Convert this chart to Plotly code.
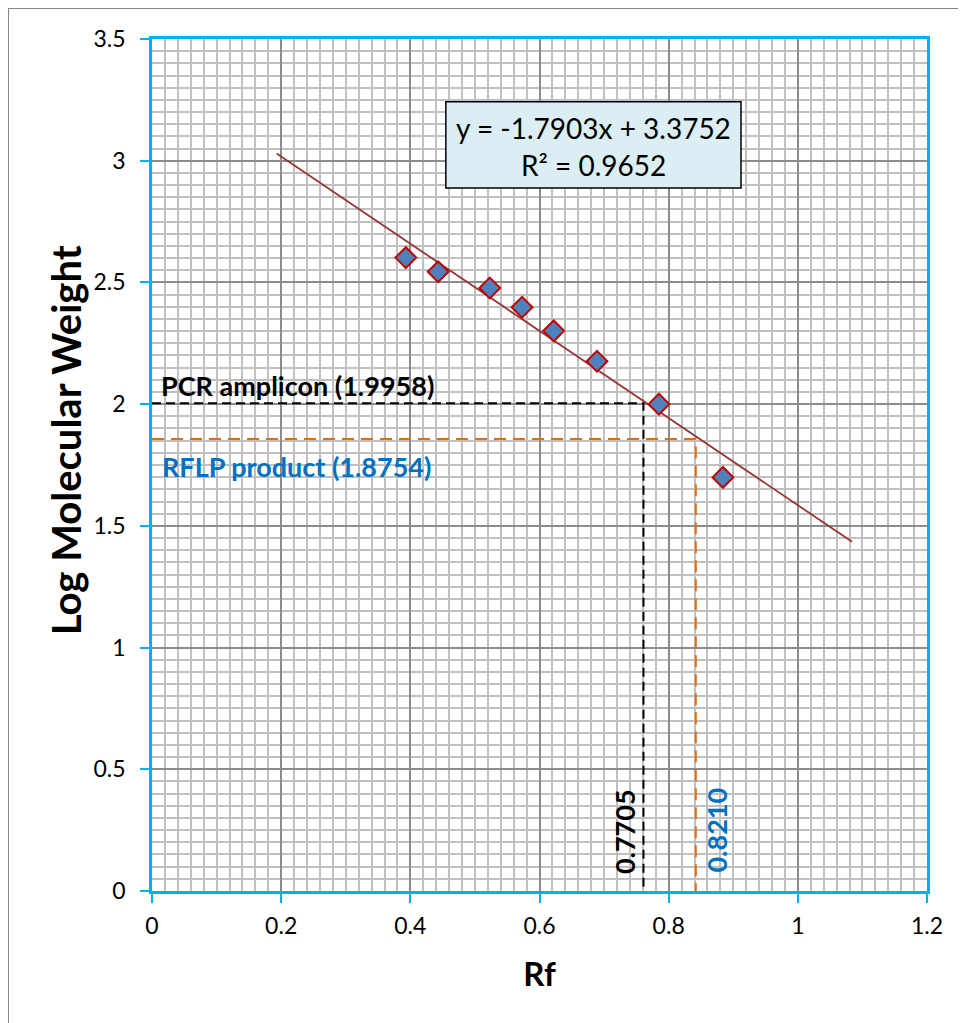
import numpy as np
import plotly.graph_objects as go

# Data
rf = [0.393, 0.443, 0.523, 0.573, 0.622, 0.689, 0.785, 0.884]
log_mw = [2.602, 2.544, 2.477, 2.398, 2.301, 2.176, 2.000, 1.699]
slope = -1.7903
intercept = 3.3752
r2 = 0.9652
forecast = 0.2

pcr_rf, pcr_logmw = 0.761, 2.004
rflp_rf, rflp_logmw = 0.842, 1.857
pcr_label_rf, pcr_label_logmw = "0.7705", "1.9958"
rflp_label_rf, rflp_label_logmw = "0.8210", "1.8754"

x_ticks = [0, 0.2, 0.4, 0.6, 0.8, 1, 1.2]
y_ticks = [0, 0.5, 1, 1.5, 2, 2.5, 3, 3.5]

FONT = "Lato"
CYAN = "#00B0F0"
BLUE = "#0070C0"
ORANGE = "#E46C0A"

tx = np.array([min(rf) - forecast, max(rf) + forecast])
ty = slope * tx + intercept

fig = go.Figure()
fig.add_trace(go.Scatter(x=tx, y=ty, mode="lines",
                         line=dict(color="#953735", width=1.8), hoverinfo="skip"))
fig.add_trace(go.Scatter(x=[0, pcr_rf, pcr_rf], y=[pcr_logmw, pcr_logmw, 0], mode="lines",
                         line=dict(color="black", width=2, dash="9px,5px")))
fig.add_trace(go.Scatter(x=[0, rflp_rf, rflp_rf], y=[rflp_logmw, rflp_logmw, 0], mode="lines",
                         line=dict(color=ORANGE, width=2, dash="12px,7px")))
fig.add_trace(go.Scatter(x=rf, y=log_mw, mode="markers",
                         marker=dict(symbol="diamond", size=16, color="#4F81BD",
                                     line=dict(color="#C00000", width=2))))

# equation box
fig.add_shape(type="rect", xref="x", yref="y", x0=0.455, x1=0.912, y0=2.888, y1=3.242,
              fillcolor="#DBEEF4", line=dict(color="black", width=1.5), layer="above")
fig.add_annotation(x=0.684, y=3.135, text=f"y = {slope}x + {intercept}", showarrow=False,
                   font=dict(family=FONT, size=28, color="black"))
fig.add_annotation(x=0.684, y=2.983, text=f"R² = {r2}", showarrow=False,
                   font=dict(family=FONT, size=28, color="black"))

fig.add_annotation(x=0.225, y=2.075, text=f"<b>PCR amplicon ({pcr_label_logmw})</b>", showarrow=False,
                   font=dict(family=FONT, size=27, color="black"))
fig.add_annotation(x=0.223, y=1.742, text=f"<b>RFLP product ({rflp_label_logmw})</b>", showarrow=False,
                   font=dict(family=FONT, size=27, color=BLUE))
fig.add_annotation(x=0.732, y=0.245, text=f"<b>{pcr_label_rf}</b>", showarrow=False, textangle=-90,
                   font=dict(family=FONT, size=27, color="black"))
fig.add_annotation(x=0.874, y=0.25, text=f"<b>{rflp_label_rf}</b>", showarrow=False, textangle=-90,
                   font=dict(family=FONT, size=27, color=BLUE))

# y-axis title
fig.add_annotation(xref="paper", yref="paper", x=-0.111, y=0.529, xanchor="center", yanchor="middle",
                   text="<b>Log Molecular Weight</b>", showarrow=False, textangle=-90,
                   font=dict(family=FONT, size=40, color="black"))

# outer chart border
fig.add_shape(type="rect", xref="paper", yref="paper", x0=-0.1858, x1=1.2, y0=-0.3, y1=1.0364,
              line=dict(color="#868686", width=2), fillcolor="rgba(0,0,0,0)", layer="below")

axis_common = dict(
    showline=True, linecolor=CYAN, linewidth=2.5, mirror=True,
    ticks="outside", ticklen=9, tickwidth=2, tickcolor=CYAN,
    showgrid=True, gridcolor="#8C8C8C", gridwidth=2,
    zeroline=False, tickfont=dict(family=FONT, size=23, color="black"),
)

fig.update_layout(
    width=958, height=1015,
    margin=dict(l=144, r=39, t=31, b=132),
    paper_bgcolor="white", plot_bgcolor="white",
    showlegend=False,
    xaxis=dict(range=[0, 1.2], tickvals=x_ticks, ticktext=[f"{v:g}" for v in x_ticks],
               minor=dict(dtick=0.02, showgrid=True, gridcolor="#C0C0C0", gridwidth=1.8, ticks=""),
               title=dict(text="<b>Rf</b>", font=dict(family=FONT, size=33, color="black"), standoff=25),
               ticklabelstandoff=4,
               **axis_common),
    yaxis=dict(range=[0, 3.5], tickvals=y_ticks, ticktext=[f"{v:g}" for v in y_ticks],
               minor=dict(dtick=0.05, showgrid=True, gridcolor="#C0C0C0", gridwidth=1.8, ticks=""),
               ticklabelstandoff=10,
               **axis_common),
)

fig.write_html("out.html")
